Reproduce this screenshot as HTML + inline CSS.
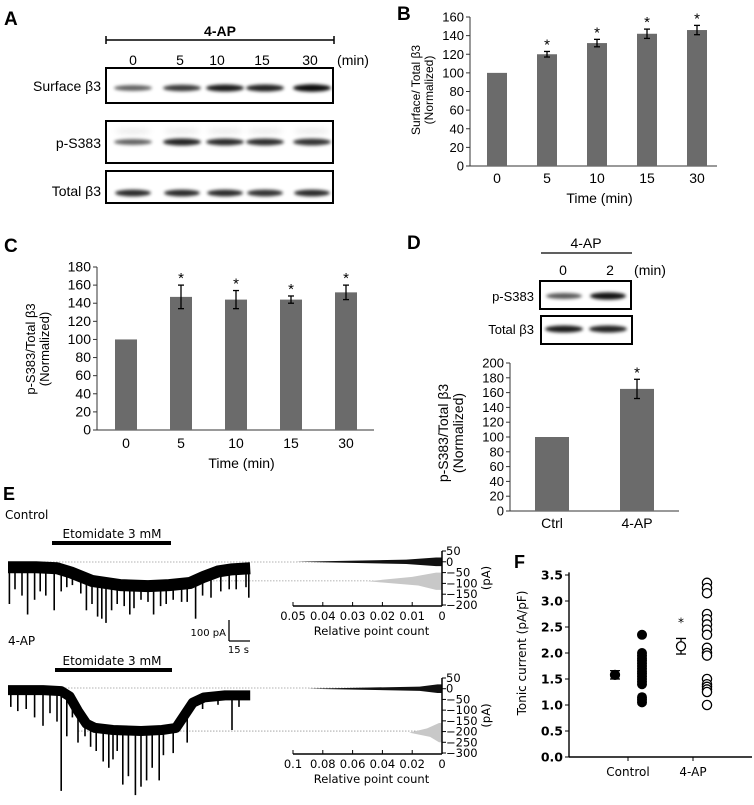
<!DOCTYPE html>
<html><head><meta charset="utf-8"><style>
html,body{margin:0;padding:0;background:#fff;}
svg{display:block;}
.a{font-family:"Liberation Sans",Arial,sans-serif;}
.v{font-family:"DejaVu Sans",Verdana,sans-serif;}
</style></head><body>
<svg id="fig" width="754" height="805" viewBox="0 0 754 805" xmlns="http://www.w3.org/2000/svg">
<defs>
<filter id="blur" x="-20%" y="-100%" width="140%" height="300%"><feGaussianBlur stdDeviation="1.6"/></filter>
<filter id="blur2" x="-20%" y="-100%" width="140%" height="300%"><feGaussianBlur stdDeviation="3"/></filter>
</defs>
<g id="panelA" class="a">
<text x="4" y="25" font-size="19" font-weight="bold">A</text>
<text x="220" y="36" font-size="14" font-weight="bold" text-anchor="middle">4-AP</text>
<line x1="106" y1="40" x2="334" y2="40" stroke="#000" stroke-width="1.5"/>
<line x1="106" y1="36" x2="106" y2="44" stroke="#000" stroke-width="1.5"/>
<line x1="334" y1="36" x2="334" y2="44" stroke="#000" stroke-width="1.5"/>
<g font-size="14" text-anchor="middle">
<text x="133" y="65">0</text><text x="180" y="65">5</text><text x="217" y="65">10</text><text x="262" y="65">15</text><text x="310" y="65">30</text><text x="353" y="65">(min)</text>
</g>
<g font-size="14" text-anchor="end">
<text x="101" y="91">Surface β3</text>
<text x="101" y="148">p-S383</text>
<text x="101" y="196">Total β3</text>
</g>
<g id="blotA"></g>
<rect x="106" y="68" width="227" height="35" fill="none" stroke="#000" stroke-width="2"/>
<rect x="106" y="121" width="227" height="42" fill="none" stroke="#000" stroke-width="2"/>
<rect x="106" y="171" width="227" height="32" fill="none" stroke="#000" stroke-width="2"/>
</g>
<g id="panelB" class="a">
<text x="397" y="20" font-size="19" font-weight="bold">B</text>
</g>
<g id="panelC" class="a">
<text x="4" y="252" font-size="19" font-weight="bold">C</text>
</g>
<g id="panelD" class="a">
<text x="407" y="249" font-size="19" font-weight="bold">D</text>
<text x="586" y="248" font-size="14" text-anchor="middle">4-AP</text>
<line x1="541" y1="253" x2="632" y2="253" stroke="#000" stroke-width="1.2"/>
<text x="563" y="275" font-size="14" text-anchor="middle">0</text>
<text x="610" y="275" font-size="14" text-anchor="middle">2</text>
<text x="650" y="275" font-size="14" text-anchor="middle">(min)</text>
<text x="534" y="301" font-size="13" text-anchor="end">p-S383</text>
<text x="534" y="334" font-size="13" text-anchor="end">Total β3</text>
<g id="blotD"></g>
<rect x="540" y="281" width="91" height="28" fill="none" stroke="#000" stroke-width="2"/>
<rect x="541" y="316" width="91" height="28" fill="none" stroke="#000" stroke-width="2"/>
</g>
<g id="panelE" class="v">
<text x="3" y="500" font-size="18" font-weight="bold" class="a">E</text>
<text x="5" y="519" font-size="12">Control</text>
<text x="112" y="538" font-size="12" text-anchor="middle">Etomidate 3 mM</text>
<rect x="52" y="541" width="119" height="4" fill="#000"/>
<text x="8" y="645" font-size="12">4-AP</text>
<text x="112" y="665" font-size="12" text-anchor="middle">Etomidate 3 mM</text>
<rect x="55" y="668" width="117" height="4" fill="#000"/>
<g>
<line x1="229" y1="620" x2="229" y2="641" stroke="#000" stroke-width="1.3"/>
<line x1="229" y1="641" x2="250" y2="641" stroke="#000" stroke-width="1.3"/>
<text x="226" y="636" font-size="10" text-anchor="end">100 pA</text>
<text x="249" y="653" font-size="10" text-anchor="end">15 s</text>
</g>
<g id="traces"></g>
<g id="hists"></g>
</g>
<g id="panelF" class="v">
<text x="514" y="568" font-size="18" font-weight="bold" class="a">F</text>
</g>
</svg>
<script>
const NS='http://www.w3.org/2000/svg';
function mk(parent,tag,attrs,text){const e=document.createElementNS(NS,tag);for(const k in attrs)e.setAttribute(k,attrs[k]);if(text!==undefined)e.textContent=text;parent.appendChild(e);return e;}

/* ---------- Data ---------- */
const bCategories=['0','5','10','15','30'];
const bValues=[100,120,132,142,146];
const bErrors=[0,3,4,5,5];
const bTicks=[0,20,40,60,80,100,120,140,160];
const bStars=[false,true,true,true,true];

const cCategories=['0','5','10','15','30'];
const cValues=[100,147,144,144,152];
const cErrors=[0,13,10,4,8];
const cTicks=[0,20,40,60,80,100,120,140,160,180];
const cStars=[false,true,true,true,true];

const dCategories=['Ctrl','4-AP'];
const dValues=[100,165];
const dErrors=[0,13];
const dTicks=[0,20,40,60,80,100,120,140,160,180,200];
const dStars=[false,true];

const aSurface=[0.45,0.7,0.9,0.85,1.0];
const aPS383=[0.45,0.85,0.8,0.78,0.75];
const aTotal=[0.8,0.8,0.8,0.75,0.8];
const dPS383=[0.5,0.95];
const dTotal=[0.9,0.85];

const fControlMean=1.58, fControlErr=0.08;
const fApMean=2.13, fApErr=0.15;
const fControl=[2.35,2.0,1.95,1.9,1.85,1.8,1.75,1.7,1.65,1.6,1.55,1.5,1.45,1.4,1.15,1.1,1.05];
const fAp=[3.35,3.25,3.15,2.75,2.65,2.55,2.45,2.35,2.1,2.0,1.95,1.5,1.4,1.35,1.3,1.25,1.0];
const fTicks=[0.0,0.5,1.0,1.5,2.0,2.5,3.0,3.5];

const ctrlBaseT=[0,20,35,45,60,80,100,115,130,140,150,160,173];
const ctrlBaseI=[-25,-25,-30,-50,-90,-110,-115,-110,-100,-70,-45,-35,-30];
const ctrlSpikeT=[1,5,10,14,19,23,27,33,38,42,46,52,56,60,64,67,70,74,78,83,87,90,95,100,104,109,113,118,124,128,134,139,145,152,158,163,170,172];
const ctrlSpikeI=[-200,-130,-160,-250,-180,-140,-160,-230,-140,-120,-110,-150,-230,-200,-260,-270,-290,-230,-200,-210,-250,-220,-180,-190,-250,-210,-200,-180,-190,-190,-270,-160,-170,-140,-130,-130,-120,-170];
const apBaseT=[0,25,38,44,50,56,62,75,95,110,120,126,132,140,155,173];
const apBaseI=[-10,-10,-15,-40,-110,-170,-190,-200,-205,-200,-190,-130,-70,-45,-35,-35];
const apSpikeT=[2,7,13,19,25,30,35,38,42,46,50,55,59,63,68,72,75,78,82,86,91,95,99,103,108,111,118,128,139,150,160,165];
const apSpikeI=[-90,-110,-100,-140,-180,-120,-160,-490,-230,-140,-260,-230,-280,-300,-350,-380,-340,-300,-460,-420,-510,-470,-440,-380,-440,-320,-310,-260,-100,-80,-200,-90];

const hCtrlBlackI=[20,10,0,-10,-20];
const hCtrlBlackC=[0.002,0.012,0.049,0.012,0.002];
const hCtrlGrayI=[-50,-70,-90,-110,-130];
const hCtrlGrayC=[0.002,0.01,0.025,0.008,0.002];
const hApBlackI=[20,10,0,-10,-20];
const hApBlackC=[0.003,0.015,0.09,0.015,0.003];
const hApGrayI=[-160,-185,-205,-225,-250];
const hApGrayC=[0.002,0.01,0.022,0.008,0.002];
const hCtrlXTicks=[0.05,0.04,0.03,0.02,0.01,0];
const hCtrlYTicks=[50,0,-50,-100,-150,-200];
const hApXTicks=[0.1,0.08,0.06,0.04,0.02,0];
const hApYTicks=[50,0,-50,-100,-150,-200,-250,-300];

/* ---------- Blots ---------- */
function blot(g,xs,y,vals,w,name){
  vals.forEach((v,i)=>{
    const e=mk(g,'ellipse',{cx:xs[i],cy:y,rx:w/2,ry:2.2+v*1.5,fill:'rgba(0,0,0,'+(0.35+v*0.6)+')',filter:'url(#blur)'});
    
    
  });
}
const gA=document.getElementById('blotA');
const laneA=[133,182,225,265,312];
blot(gA,laneA,88,aSurface,38,'surface');
blot(gA,laneA,142,aPS383,38,'p-s383');
laneA.forEach(x=>mk(gA,'ellipse',{cx:x,cy:131,rx:18,ry:3,fill:'rgba(0,0,0,0.08)',filter:'url(#blur2)'}));
blot(gA,laneA,193,aTotal,36,'total');
const gD=document.getElementById('blotD');
blot(gD,[564,608],296,dPS383,36,'d-p-s383');
blot(gD,[564,608],329,dTotal,38,'d-total');

/* ---------- Bar charts ---------- */
function barChart(o){
  const g=mk(document.getElementById(o.id),'g',{});
  const ymax=o.ticks[o.ticks.length-1];
  const ys=v=>o.y0-(v/ymax)*(o.y0-o.ytop);
  const xs=i=>o.x1+o.step*i;
  mk(g,'line',{x1:o.ax,y1:o.ytop,x2:o.ax,y2:o.y0,stroke:'#333','stroke-width':1});
  const xa=mk(g,'line',{x1:o.ax,y1:o.y0,x2:o.xend,y2:o.y0,stroke:'#333','stroke-width':1});
  
  
  o.ticks.forEach(t=>{
    mk(g,'line',{x1:o.ax-4,y1:ys(t),x2:o.ax,y2:ys(t),stroke:'#333'});
    const tl=mk(g,'text',{x:o.ax-6,y:ys(t)+4.5,'font-size':o.fs,'text-anchor':'end'},String(t));
    
    
  });
  o.cats.forEach((c,i)=>{
    const x=xs(i),v=o.vals[i],e=o.errs[i];
    const r=mk(g,'rect',{x:x-o.bw/2,y:ys(v),width:o.bw,height:o.y0-ys(v),fill:'#6b6b6b'});
    
    
    if(e>0){
      mk(g,'line',{x1:x,y1:ys(v+e),x2:x,y2:ys(v-e),stroke:'#000','stroke-width':1.3});
      mk(g,'line',{x1:x-3,y1:ys(v+e),x2:x+3,y2:ys(v+e),stroke:'#000','stroke-width':1.3});
      mk(g,'line',{x1:x-3,y1:ys(v-e),x2:x+3,y2:ys(v-e),stroke:'#000','stroke-width':1.3});
    }
    if(o.stars[i]){const s=mk(g,'text',{x:x,y:ys(v+e)-2,'font-size':15,'text-anchor':'middle'},'*');
      
      }
    const l=mk(g,'text',{x:x,y:o.y0+o.fs+4,'font-size':o.xfs,'text-anchor':'middle'},c);
    
    
  });
  if(o.xtitle){const t=mk(g,'text',{x:(o.ax+o.xend)/2+6,y:o.y0+o.fs+24,'font-size':o.xfs,'text-anchor':'middle'},o.xtitle);
    
    }
  const yt=mk(g,'text',{transform:'translate('+o.tx+','+o.ty+') rotate(-90)','font-size':o.tfs,'text-anchor':'middle'});
  
  
  mk(yt,'tspan',{x:0,y:0},o.t1);
  mk(yt,'tspan',{x:0,y:o.tfs+1},'(Normalized)');
}
barChart({id:'panelB',pre:'b-',cats:bCategories,vals:bValues,errs:bErrors,ticks:bTicks,stars:bStars,ax:470,y0:166,ytop:17,xend:717,x1:497,step:50,bw:20,fs:13,xfs:14,tfs:12,xtitle:'Time (min)',t1:'Surface/ Total β3',tx:420,ty:90});
barChart({id:'panelC',pre:'c-',cats:cCategories,vals:cValues,errs:cErrors,ticks:cTicks,stars:cStars,ax:97,y0:430,ytop:267,xend:374,x1:126,step:55,bw:22,fs:14,xfs:14,tfs:13,xtitle:'Time (min)',t1:'p-S383/Total β3',tx:35,ty:349});
barChart({id:'panelD',pre:'d-',cats:dCategories,vals:dValues,errs:dErrors,ticks:dTicks,stars:dStars,ax:510,y0:511,ytop:363,xend:679,x1:552,step:85,bw:34,fs:13,xfs:14,tfs:14,xtitle:null,t1:'p-S383/Total β3',tx:448,ty:433});

/* ---------- Traces ---------- */
const gT=document.getElementById('traces');
function trace(name,x0,yZero,bt,bi,st,si,dotLevel,sw){
  const pxs=21/15, pyp=0.21;
  const X=t=>x0+t*pxs, Y=i=>yZero-i*pyp;
  const g=mk(gT,'g',{});
  
  
  mk(g,'line',{x1:x0,y1:yZero,x2:440,y2:yZero,stroke:'#999','stroke-width':0.8,'stroke-dasharray':'1.5 1.5'});
  mk(g,'line',{x1:X(50),y1:Y(dotLevel),x2:440,y2:Y(dotLevel),stroke:'#999','stroke-width':0.8,'stroke-dasharray':'1.5 1.5'});
  const interp=t=>{for(let k=1;k<bt.length;k++){if(t<=bt[k]){const f=(t-bt[k-1])/(bt[k]-bt[k-1]);return bi[k-1]+f*(bi[k]-bi[k-1]);}}return bi[bi.length-1];};
  mk(g,'polyline',{points:bt.map((t,k)=>X(t)+','+Y(bi[k])).join(' '),fill:'none',stroke:'#000','stroke-width':sw,'stroke-linejoin':'round'});
  st.forEach((t,k)=>{const b=interp(t);
    mk(g,'line',{x1:X(t),y1:Y(b),x2:X(t),y2:Y(si[k]),stroke:'#000','stroke-width':1.6});});
}
trace('control-trace',8,562,ctrlBaseT,ctrlBaseI,ctrlSpikeT,ctrlSpikeI,-90,12);
trace('4ap-trace',8,688,apBaseT,apBaseI,apSpikeT,apSpikeI,-205,10);

/* ---------- Histograms ---------- */
const gH=document.getElementById('hists');
function hist(name,o){
  const g=mk(gH,'g',{'font-size':11.5});
  
  
  const xmax=o.xt[0];
  const X=c=>o.ax-(c/xmax)*(o.ax-o.xl);
  const ymaxI=o.yt[0], yminI=o.yt[o.yt.length-1];
  const Y=i=>o.ytop+(ymaxI-i)/(ymaxI-yminI)*(o.ybot-o.ytop);
  const poly=(I,C,fill)=>{let pts=[o.ax+','+Y(I[0])];I.forEach((v,k)=>pts.push(X(C[k])+','+Y(v)));pts.push(o.ax+','+Y(I[I.length-1]));
    return mk(g,'polygon',{points:pts.join(' '),fill:fill});};
  const pb=poly(o.bi,o.bc,'#111');
  
  
  const pg=poly(o.gi,o.gc,'#c8c8c8');
  
  
  mk(g,'line',{x1:o.ax,y1:o.ytop,x2:o.ax,y2:o.ybot+1,stroke:'#000','stroke-width':1.5});
  o.yt.forEach(t=>{mk(g,'line',{x1:o.ax,y1:Y(t),x2:o.ax+4,y2:Y(t),stroke:'#000'});
    mk(g,'text',{x:o.ax+4,y:Y(t)+4},String(t).replace('-','−'));});
  mk(g,'line',{x1:o.xl,y1:o.ybot+1,x2:o.ax,y2:o.ybot+1,stroke:'#000','stroke-width':1.5});
  o.xt.forEach(t=>{mk(g,'line',{x1:X(t),y1:o.ybot+1,x2:X(t),y2:o.ybot-3,stroke:'#000'});
    mk(g,'text',{x:X(t),y:o.ybot+15,'text-anchor':'middle'},String(t));});
  mk(g,'text',{x:(o.xl+o.ax)/2+4,y:o.ybot+30,'text-anchor':'middle'},'Relative point count');
  mk(g,'text',{transform:'translate('+(o.ax+48)+','+((o.ytop+o.ybot)/2)+') rotate(-90)','text-anchor':'middle'},'(pA)');
}
hist('control-histogram',{ax:442,xl:293,ytop:551,ybot:605,xt:hCtrlXTicks,yt:hCtrlYTicks,bi:hCtrlBlackI,bc:hCtrlBlackC,gi:hCtrlGrayI,gc:hCtrlGrayC});
hist('4ap-histogram',{ax:442,xl:293,ytop:678,ybot:753,xt:hApXTicks,yt:hApYTicks,bi:hApBlackI,bc:hApBlackC,gi:hApGrayI,gc:hApGrayC});

/* ---------- Panel F ---------- */
(function(){
  const g=mk(document.getElementById('panelF'),'g',{});
  const ax=569,y0=757,ppu=52;
  const Y=v=>y0-v*ppu;
  mk(g,'line',{x1:ax,y1:Y(3.55),x2:ax,y2:y0,stroke:'#000','stroke-width':1.4});
  const xa=mk(g,'line',{x1:ax,y1:y0,x2:752,y2:y0,stroke:'#000','stroke-width':1.4});
  
  
  fTicks.forEach(t=>{mk(g,'line',{x1:ax-4,y1:Y(t),x2:ax,y2:Y(t),stroke:'#000'});
    mk(g,'text',{x:ax-6,y:Y(t)+4.5,'font-size':12.5,'font-weight':'bold','text-anchor':'end'},t.toFixed(1));});
  [[628,'Control'],[693,'4-AP']].forEach(([x,l])=>{mk(g,'line',{x1:x,y1:y0,x2:x,y2:y0+4,stroke:'#000'});
    const tl=mk(g,'text',{x:x,y:y0+19,'font-size':12,'text-anchor':'middle'},l);
    
    });
  const yt=mk(g,'text',{transform:'translate(526,'+Y(2.0)+') rotate(-90)','font-size':12,'text-anchor':'middle'},'Tonic current (pA/pF)');
  
  
  function errpt(x,m,e,filled,name){
    mk(g,'line',{x1:x,y1:Y(m+e),x2:x,y2:Y(m-e),stroke:'#000','stroke-width':1.3});
    mk(g,'line',{x1:x-5,y1:Y(m+e),x2:x+5,y2:Y(m+e),stroke:'#000','stroke-width':1.3});
    mk(g,'line',{x1:x-5,y1:Y(m-e),x2:x+5,y2:Y(m-e),stroke:'#000','stroke-width':1.3});
    const c=mk(g,'circle',{cx:x,cy:Y(m),r:4.5,fill:filled?'#000':'#fff',stroke:'#000','stroke-width':1.3});
    
    
  }
  errpt(615,fControlMean,fControlErr,true,'control-mean');
  errpt(681,fApMean,fApErr,false,'4ap-mean');
  const st=mk(g,'text',{x:681,y:Y(fApMean+fApErr)-12,'font-size':12,'text-anchor':'middle'},'*');
  
  
  fControl.forEach(v=>{const c=mk(g,'circle',{cx:642,cy:Y(v),r:5,fill:'#000'});
    
    });
  fAp.forEach(v=>{const c=mk(g,'circle',{cx:707,cy:Y(v),r:4.6,fill:'#fff',stroke:'#000','stroke-width':1.3});
    
    });
})();
</script>
</body></html>
